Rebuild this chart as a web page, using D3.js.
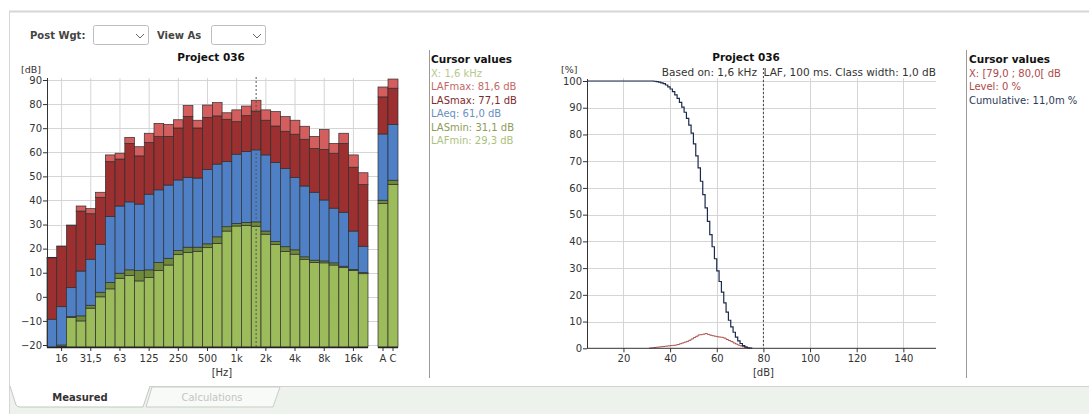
<!DOCTYPE html>
<html>
<head>
<meta charset="utf-8">
<script src="https://cdn.jsdelivr.net/npm/d3@7"></script>
<style>
  body { margin: 0; background: #fff; }
  text { font-family: "DejaVu Sans", Verdana, sans-serif; fill: #333; }
</style>
</head>
<body>
<script>
// ---- data: 1/3 octave spectrum (dB) ----
var bands = ["12.5","16","20","25","31.5","40","50","63","80","100","125","160","200","250","315","400","500","630","800","1k","1.25k","1.6k","2k","2.5k","3.15k","4k","5k","6.3k","8k","10k","12.5k","16k","20k"];
var tickBands = ["16","31.5","63","125","250","500","1k","2k","4k","8k","16k"];
var tickLabels = ["16","31,5","63","125","250","500","1k","2k","4k","8k","16k"];

var LAFmax = [16.4,21.1,29.8,37.7,36.6,43.4,58.9,59.6,66.2,62.3,67.9,72.0,71.6,73.5,79.4,73.3,79.6,80.6,76.4,77.6,79.2,81.6,77.6,76.9,74.8,73.3,70.8,66.6,69.4,63.7,67.9,58.9,51.5];
var LASmax = [16.2,20.9,29.6,35.6,34.5,41.3,56.1,57.2,63.7,58.5,64.1,66.5,66.6,70.1,74.9,70.1,74.5,75.1,73.7,72.7,75.2,77.1,73.3,70.9,68.7,67.5,65.4,61.6,61.2,59.6,63.7,53.8,46.6];
var LAeq   = [-9.3,-4.1,3.8,10.7,15.6,21.8,33.3,37.7,39.4,38.5,42.6,44.4,46.4,48.5,49.6,49.3,52.9,55.1,56.1,59.2,60.3,61.0,58.9,55.8,53.2,49.6,46.0,43.4,40.2,36.8,35.1,27.3,21.0];
var LASmin = [-25,-20.0,-8.2,-7.9,-3.5,1.9,6.0,9.8,11.2,10.9,11.2,14.3,16.0,19.2,20.6,20.6,22.0,24.9,29.1,30.5,30.9,31.1,27.3,22.9,20.8,19.5,16.6,15.2,14.9,14.1,12.7,11.4,10.1];
var LAFmin = [-25,-20.6,-8.6,-10.0,-4.7,0.0,3.3,7.7,8.8,6.6,8.0,10.9,13.2,17.5,18.4,18.9,20.4,22.2,27.3,29.4,29.6,29.3,26.0,21.8,18.8,17.7,15.6,14.3,14.1,13.2,12.1,10.9,9.6];

// overall A / C bars
var totals = ["A","C"];
var totLAFmax = [87.1, 90.4];
var totLASmax = [83.0, 86.6];
var totLAeq   = [67.6, 71.6];
var totLASmin = [40.1, 48.4];
var totLAFmin = [38.7, 46.7];

var cursorBand = "1.6k";

// ---- data: level distribution at 1,6 kHz (classes of 1 dB) ----
var classes    = d3.range(31, 76); // 31..75 dB
var levelPct   = [0.1,0.2,0.3,0.4,0.5,0.6,0.7,0.8,0.9,1.0,1.1,1.2,1.4,1.7,2.0,2.3,2.6,3.0,3.5,4.0,4.5,5.0,5.1,5.3,5.5,5.2,4.9,4.7,4.5,4.3,4.2,4.1,3.8,3.3,2.9,2.5,2.0,1.6,1.2,0.9,0.6,0.3,0.1,0.0,0.0];
var cumulPct   = [100,100,99.9,99.8,99.6,99.3,99.0,98.5,97.8,97.0,96.0,94.8,93.5,92.0,90.2,88.3,86.0,83.5,80.5,76.5,72.0,67.5,62.5,57.5,52.5,47.5,42.5,38.0,33.5,29.0,25.0,21.0,17.0,13.5,10.5,8.0,6.0,4.2,2.8,1.8,1.0,0.5,0.2,0.05,0];
var cursorLevel = 80;

// colors
var cLAFmax = "#d45d5d", cLASmax = "#9c2f2f", cLAeq = "#4f80c6",
    cLASmin = "#6f8a3b", cLAFmin = "#9cbb5a";

var W = 1089, H = 414;
var svg = d3.select("body").append("svg")
  .attr("width", W).attr("height", H);

// ---- page frame / tabs ----
svg.append("rect").attr("x", 9).attr("y", 386).attr("width", W - 9).attr("height", H - 386)
  .attr("fill", "#edf3ec");
svg.append("line").attr("x1", 9).attr("x2", W).attr("y1", 386.5).attr("y2", 386.5)
  .attr("stroke", "#cfd4ce");
svg.append("line").attr("x1", 9).attr("x2", W).attr("y1", 11.5).attr("y2", 11.5)
  .attr("stroke", "#d6d6d6").attr("stroke-width", 2);
svg.append("line").attr("x1", 9.5).attr("x2", 9.5).attr("y1", 11).attr("y2", H)
  .attr("stroke", "#d6d6d6");

svg.append("path")
  .attr("d", "M146,407 L152,387 L280,387 L273,407 Z")
  .attr("fill", "#f8faf8").attr("stroke", "#c9cdc9");
svg.append("path")
  .attr("d", "M10,386 L16,405 Q17,407 20,407 L143,407 L150,386")
  .attr("fill", "#fff").attr("stroke", "#c4c8c4");
svg.append("text").attr("x", 80).attr("y", 400.5).attr("text-anchor", "middle")
  .style("font-size", "10px").style("font-weight", "bold").text("Measured");
svg.append("text").attr("x", 212).attr("y", 400.5).attr("text-anchor", "middle")
  .style("font-size", "10px").style("fill", "#c4c4c4").text("Calculations");

// ---- controls ----
function combo(x, w) {
  svg.append("rect").attr("x", x + 0.5).attr("y", 25.5).attr("width", w).attr("height", 19)
    .attr("rx", 2).attr("fill", "#fff").attr("stroke", "#bdbdbd");
  var cx = x + w - 8;
  svg.append("path").attr("d", "M" + (cx - 4) + ",34 L" + cx + ",38 L" + (cx + 4) + ",34")
    .attr("fill", "none").attr("stroke", "#666");
}
svg.append("text").attr("x", 30).attr("y", 39).style("font-size", "10px")
  .style("font-weight", "bold").style("fill", "#444").text("Post Wgt:");
combo(93, 55);
svg.append("text").attr("x", 157).attr("y", 39).style("font-size", "10px")
  .style("font-weight", "bold").style("fill", "#444").text("View As");
combo(211, 54);

// ================= LEFT: spectrum =================
var x = d3.scaleBand().domain(bands).range([47, 368]);
var xt = d3.scaleBand().domain(totals).range([378, 398]);
var y = d3.scaleLinear().domain([-20, 90]).range([345, 80]);
var yBottom = 347, yTop = 78;
var yMinVal = y.invert(yBottom);

var left = svg.append("g");

// grid
left.selectAll(".hg").data(d3.range(-20, 91, 10)).enter().append("line")
  .attr("x1", 47).attr("x2", 398)
  .attr("y1", function(d) { return Math.round(y(d)) + 0.5; })
  .attr("y2", function(d) { return Math.round(y(d)) + 0.5; })
  .attr("stroke", "#d5d5d5");
left.selectAll(".vg").data(tickBands).enter().append("line")
  .attr("x1", function(d) { return x(d) + x.bandwidth() / 2; })
  .attr("x2", function(d) { return x(d) + x.bandwidth() / 2; })
  .attr("y1", yTop).attr("y2", yBottom)
  .attr("stroke", "#d5d5d5");

// stacked layers: [low, high, colour]
function layers(i, fmin, smin, eq, smax, fmax) {
  return [
    [yMinVal, fmin[i], cLAFmin],
    [fmin[i], smin[i], cLASmin],
    [smin[i], eq[i], cLAeq],
    [eq[i], smax[i], cLASmax],
    [smax[i], fmax[i], cLAFmax]
  ];
}
function drawBars(g, keys, xs, fmin, smin, eq, smax, fmax) {
  keys.forEach(function(k, i) {
    var segs = layers(i, fmin, smin, eq, smax, fmax);
    segs.forEach(function(s) {
      var lo = Math.max(s[0], yMinVal), hi = Math.max(s[1], yMinVal);
      if (hi <= lo) return;
      g.append("rect")
        .attr("x", xs(k)).attr("width", xs.bandwidth())
        .attr("y", y(hi)).attr("height", y(lo) - y(hi))
        .attr("fill", s[2]).attr("stroke", "#2e2e2e").attr("stroke-width", 0.7);
    });
  });
}
drawBars(left, bands, x, LAFmin, LASmin, LAeq, LASmax, LAFmax);
drawBars(left, totals, xt, totLAFmin, totLASmin, totLAeq, totLASmax, totLAFmax);

// cursor line
left.append("line")
  .attr("x1", x(cursorBand) + x.bandwidth() / 2).attr("x2", x(cursorBand) + x.bandwidth() / 2)
  .attr("y1", 77).attr("y2", yBottom)
  .attr("stroke", "#555").attr("stroke-dasharray", "2,2");

// axes
var yAxL = left.append("g").attr("transform", "translate(47,0)")
  .call(d3.axisLeft(y).tickValues(d3.range(-20, 91, 10)).tickSize(4).tickPadding(1));
yAxL.select(".domain").remove();
left.append("line").attr("x1", 47.5).attr("x2", 47.5).attr("y1", yTop).attr("y2", yBottom)
  .attr("stroke", "#333");

var xAxL = left.append("g").attr("transform", "translate(0," + yBottom + ")")
  .call(d3.axisBottom(x).tickValues(tickBands).tickSize(4).tickPadding(4)
    .tickFormat(function(d) { return tickLabels[tickBands.indexOf(d)]; }));
xAxL.select(".domain").remove();
var xAxT = left.append("g").attr("transform", "translate(0," + yBottom + ")")
  .call(d3.axisBottom(xt).tickSize(4).tickPadding(4));
xAxT.select(".domain").remove();
left.append("line").attr("x1", 47).attr("x2", 368).attr("y1", yBottom + 0.5).attr("y2", yBottom + 0.5)
  .attr("stroke", "#222").attr("stroke-width", 1.5);
left.append("line").attr("x1", 378).attr("x2", 398).attr("y1", yBottom + 0.5).attr("y2", yBottom + 0.5)
  .attr("stroke", "#222").attr("stroke-width", 1.5);
left.selectAll(".tick text").style("font-size", "10px").style("fill", "#333");
left.selectAll(".tick line").attr("stroke", "#333");

left.append("text").attr("x", 21).attr("y", 72.5).style("font-size", "9.5px").text("[dB]");
left.append("text").attr("x", 222).attr("y", 376).attr("text-anchor", "middle")
  .style("font-size", "10px").text("[Hz]");
left.append("text").attr("x", 211).attr("y", 61).attr("text-anchor", "middle")
  .style("font-size", "10.5px").style("font-weight", "bold").style("fill", "#111").text("Project 036");

// cursor panel (left)
var ci = bands.indexOf(cursorBand);
function fmt(v) { return d3.format(".1f")(v).replace(".", ","); }
svg.append("line").attr("x1", 429.5).attr("x2", 429.5).attr("y1", 50).attr("y2", 378)
  .attr("stroke", "#9a9a9a");
var leftCur = [
  ["Cursor values", "#111", true],
  ["X: 1,6 kHz", "#b5c98c", false],
  ["LAFmax: " + fmt(LAFmax[ci]) + " dB", "#c46868", false],
  ["LASmax: " + fmt(LASmax[ci]) + " dB", "#7d2b2b", false],
  ["LAeq: " + fmt(LAeq[ci]) + " dB", "#6a8fc2", false],
  ["LASmin: " + fmt(LASmin[ci]) + " dB", "#8d9c55", false],
  ["LAFmin: " + fmt(LAFmin[ci]) + " dB", "#abc27c", false]
];
leftCur.forEach(function(r, i) {
  svg.append("text").attr("x", 431).attr("y", 63 + i * 13.5)
    .style("font-size", r[2] ? "10.5px" : "10px")
    .style("font-weight", r[2] ? "bold" : "normal")
    .style("fill", r[1]).text(r[0]);
});

// ================= RIGHT: level distribution =================
var xp = d3.scaleLinear().domain([4.5, 154]).range([587.3, 936]);
var yp = d3.scaleLinear().domain([0, 100]).range([348.3, 81]);
var right = svg.append("g");

right.selectAll(".hg").data(d3.range(10, 101, 10)).enter().append("line")
  .attr("x1", 587).attr("x2", 936)
  .attr("y1", function(d) { return Math.round(yp(d)) + 0.5; })
  .attr("y2", function(d) { return Math.round(yp(d)) + 0.5; })
  .attr("stroke", "#d5d5d5");
right.selectAll(".vg").data(d3.range(20, 141, 20)).enter().append("line")
  .attr("x1", function(d) { return Math.round(xp(d)) + 0.5; })
  .attr("x2", function(d) { return Math.round(xp(d)) + 0.5; })
  .attr("y1", 78).attr("y2", yp(0))
  .attr("stroke", "#d5d5d5");

// cumulative (steps) and level (steps)
var cumPts = [[xp.domain()[0], cumulPct[0]]].concat(classes.map(function(c, i) { return [c, cumulPct[i]]; }));
var lvlPts = classes.map(function(c, i) { return [c, levelPct[i]]; });
var stepLine = d3.line().curve(d3.curveStepAfter)
  .x(function(d) { return xp(d[0]); }).y(function(d) { return yp(d[1]); });

right.append("path").datum(lvlPts).attr("d", stepLine)
  .attr("fill", "none").attr("stroke", "#a84848").attr("stroke-width", 1);
right.append("path").datum(cumPts).attr("d", stepLine)
  .attr("fill", "none").attr("stroke", "#1c2a4e").attr("stroke-width", 1.2);

right.append("line").attr("x1", xp(cursorLevel)).attr("x2", xp(cursorLevel))
  .attr("y1", 68).attr("y2", yp(0))
  .attr("stroke", "#444").attr("stroke-dasharray", "2,2");

var yAxR = right.append("g").attr("transform", "translate(587,0)")
  .call(d3.axisLeft(yp).tickValues(d3.range(0, 101, 10)).tickSize(4).tickPadding(1));
yAxR.select(".domain").remove();
right.append("line").attr("x1", 587.5).attr("x2", 587.5).attr("y1", 79).attr("y2", yp(0))
  .attr("stroke", "#333");
var xAxR = right.append("g").attr("transform", "translate(0," + yp(0) + ")")
  .call(d3.axisBottom(xp).tickValues(d3.range(20, 141, 20)).tickSize(4).tickPadding(3));
xAxR.select(".domain").remove();
right.append("line").attr("x1", 587).attr("x2", 936).attr("y1", yp(0)).attr("y2", yp(0))
  .attr("stroke", "#333");
right.selectAll(".tick text").style("font-size", "10px").style("fill", "#333");
right.selectAll(".tick line").attr("stroke", "#333");

right.append("text").attr("x", 561).attr("y", 73).style("font-size", "9.5px").text("[%]");
right.append("text").attr("x", xp(cursorLevel)).attr("y", 376).attr("text-anchor", "middle")
  .style("font-size", "10px").text("[dB]");
right.append("text").attr("x", 746).attr("y", 61).attr("text-anchor", "middle")
  .style("font-size", "10.5px").style("font-weight", "bold").style("fill", "#111").text("Project 036");
right.append("text").attr("x", 936).attr("y", 75.5).attr("text-anchor", "end")
  .style("font-size", "10.5px").text("Based on: 1,6 kHz\u00a0\u00a0LAF, 100 ms. Class width: 1,0 dB");

// cursor panel (right)
svg.append("line").attr("x1", 966.5).attr("x2", 966.5).attr("y1", 50).attr("y2", 378)
  .attr("stroke", "#9a9a9a");
var rightCur = [
  ["Cursor values", "#111", true],
  ["X: [79,0 ; 80,0[ dB", "#b04848", false],
  ["Level: 0 %", "#b04848", false],
  ["Cumulative: 11,0m %", "#2c3a58", false]
];
rightCur.forEach(function(r, i) {
  svg.append("text").attr("x", 969).attr("y", 63 + i * 13.5)
    .style("font-size", r[2] ? "10.5px" : "10px")
    .style("font-weight", r[2] ? "bold" : "normal")
    .style("fill", r[1]).text(r[0]);
});
</script>
</body>
</html>
